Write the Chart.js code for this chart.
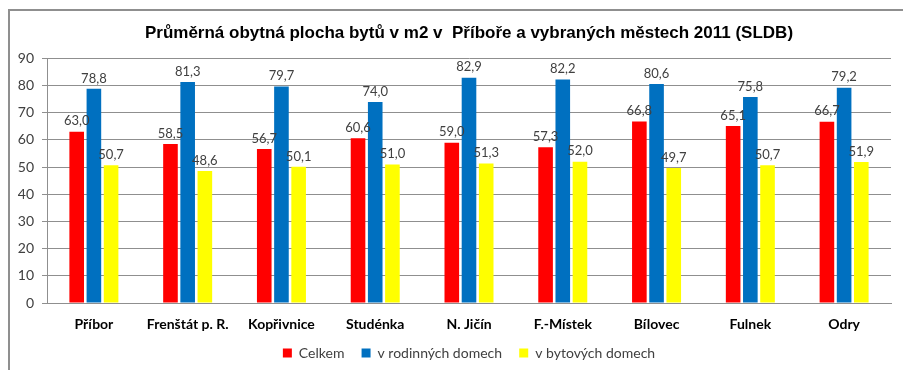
<!DOCTYPE html>
<html>
<head>
<meta charset="utf-8">
<script src="https://cdn.jsdelivr.net/npm/chart.js@4.4.1/dist/chart.umd.min.js"></script>
<style>
    html, body { margin: 0; padding: 0; background: #fff; }
    .wrap { position: relative; width: 903px; height: 370px; }
    .frame {
        position: absolute; left: 8px; top: 9px; right: -2px; bottom: -2px;
        border-left: 2px solid #8f8f8f; border-top: 2px solid #8f8f8f;
        pointer-events: none;
    }
    canvas { position: absolute; left: 0; top: 0; }
</style>
</head>
<body>
<div class="wrap">
    <canvas id="plochaChart" width="903" height="370"></canvas>
    <div class="frame"></div>
</div>
<script>
const mesta = ['Příbor', 'Frenštát p. R.', 'Kopřivnice', 'Studénka', 'N. Jičín', 'F.-Místek', 'Bílovec', 'Fulnek', 'Odry'];
const celkem = [63.0, 58.5, 56.7, 60.6, 59.0, 57.3, 66.8, 65.1, 66.7];
const rodinneDomy = [78.8, 81.3, 79.7, 74.0, 82.9, 82.2, 80.6, 75.8, 79.2];
const bytoveDomy = [50.7, 48.6, 50.1, 51.0, 51.3, 52.0, 49.7, 50.7, 51.9];
const osaY = [0, 10, 20, 30, 40, 50, 60, 70, 80, 90];

const textFont = "Lato, 'Open Sans', sans-serif";

// hodnoty nad sloupci (desetinná čárka)
const popisky = {
    id: 'popisky',
    afterDatasetsDraw(chart) {
        const ctx = chart.ctx;
        ctx.save();
        ctx.font = '13px ' + textFont;
        ctx.fillStyle = '#404040';
        ctx.textAlign = 'center';
        ctx.textBaseline = 'bottom';
        chart.data.datasets.forEach(function(ds, i) {
            chart.getDatasetMeta(i).data.forEach(function(bar, j) {
                ctx.fillText(ds.data[j].toFixed(1).replace('.', ','), bar.x, bar.y - 4);
            });
        });
        ctx.restore();
    }
};

const ctx = document.getElementById('plochaChart').getContext('2d');
const plochaChart = new Chart(ctx, {
    type: 'bar',
    data: {
        labels: mesta,
        datasets: [{
            label: 'Celkem',
            data: celkem,
            backgroundColor: '#ff0000'
        }, {
            label: 'v rodinných domech',
            data: rodinneDomy,
            backgroundColor: '#0070c0'
        }, {
            label: 'v bytových domech',
            data: bytoveDomy,
            backgroundColor: '#ffff00'
        }]
    },
    options: {
        responsive: false,
        animation: false,
        devicePixelRatio: 1,
        categoryPercentage: 0.55,
        barPercentage: 0.85,
        layout: {
            padding: { left: 10, right: 12, top: 23, bottom: 0 }
        },
        plugins: {
            // nadpis i legenda centrované nad plochou grafu (fullSize: false)
            title: {
                display: true,
                fullSize: false,
                text: 'Průměrná obytná plocha bytů v m2 v  Příboře a vybraných městech 2011 (SLDB)',
                font: { family: "'Liberation Sans Narrow', 'Liberation Sans', Arial, sans-serif", size: 17, weight: 'bold' },
                color: '#000',
                padding: { top: 0, bottom: 15 }
            },
            legend: {
                position: 'bottom',
                fullSize: false,
                labels: {
                    font: { family: textFont, size: 14 },
                    color: '#404040',
                    boxWidth: 9,
                    boxHeight: 9,
                    padding: 10,
                    // větší mezera mezi položkami, aniž by rostla výška legendy
                    generateLabels: function(chart) {
                        const items = Chart.defaults.plugins.legend.labels.generateLabels(chart);
                        items.forEach(function(item, i) {
                            if (i < items.length - 1) item.text += '  ';
                        });
                        return items;
                    }
                }
            },
            tooltip: { enabled: false }
        },
        scales: {
            x: {
                grid: { display: false },
                border: { color: '#8f8f8f' },
                afterFit: function(scale) {
                    scale.height = 33;
                },
                ticks: {
                    font: { family: textFont, size: 14, weight: 'bold' },
                    color: '#000',
                    padding: 5
                }
            },
            y: {
                min: 0,
                max: 90,
                afterBuildTicks: function(scale) {
                    scale.ticks = osaY.map(function(v) { return { value: v }; });
                },
                afterFit: function(scale) {
                    scale.width = 37;
                },
                grid: {
                    color: '#8f8f8f',
                    tickLength: 5,
                    drawTicks: true
                },
                border: { color: '#8f8f8f' },
                ticks: {
                    font: { family: textFont, size: 14 },
                    color: '#404040',
                    padding: 8
                }
            }
        }
    },
    plugins: [popisky]
});
</script>
</body>
</html>
